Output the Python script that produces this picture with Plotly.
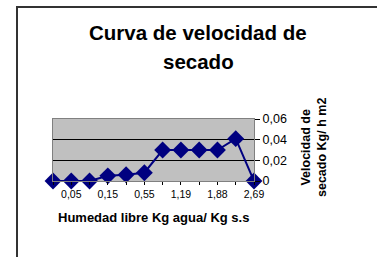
import plotly.graph_objects as go

categories = ["0", "0,05", "0,1", "0,15", "0,35", "0,55", "0,87", "1,19", "1,54", "1,88", "2,29", "2,69"]
velocidad = [0, 0, 0, 0.005, 0.006, 0.008, 0.03, 0.03, 0.03, 0.03, 0.041, 0]
y_ticks = [0, 0.02, 0.04, 0.06]
y_ticktext = ["0", "0,02", "0,04", "0,06"]

FONT = "Liberation Sans, Arial, sans-serif"
W, H = 377, 257
L, R, T, B = 53, 254, 119, 181
pw, ph = R - L, B - T

def px(x):
    return (x - L) / pw

def py(y):
    return (B - y) / ph

fig = go.Figure()
fig.add_trace(go.Scatter(
    x=categories, y=velocidad, mode="lines+markers",
    line=dict(color="#000080", width=2),
    marker=dict(symbol="diamond", size=13, color="#000080"),
    cliponaxis=False, showlegend=False, hoverinfo="skip",
))

fig.update_layout(
    width=W, height=H,
    margin=dict(l=L, r=W - R, t=T, b=H - B, pad=0),
    paper_bgcolor="white", plot_bgcolor="#C0C0C0",
    font=dict(family=FONT, color="black"),
    xaxis=dict(
        type="category", range=[0, len(categories) - 1],
        tickvals=categories,
        ticktext=[c if i % 2 == 1 else "" for i, c in enumerate(categories)],
        ticks="outside", ticklen=3, tickcolor="black",
        showgrid=False, zeroline=False,
        showline=True, linecolor="#808080", linewidth=1, mirror=True,
        tickfont=dict(size=10.5, family=FONT), tickangle=0,
    ),
    yaxis=dict(
        range=[0, 0.06], side="right",
        tickvals=y_ticks, ticktext=y_ticktext,
        ticks="outside", ticklen=5, tickcolor="black",
        showgrid=True, gridcolor="black", gridwidth=1,
        zeroline=False,
        showline=True, linecolor="#808080", linewidth=1, mirror=True,
        tickfont=dict(size=12.5, family=FONT),
    ),
    annotations=[
        dict(text="<b>Curva de velocidad de</b>", xref="paper", yref="paper",
             x=px(198), y=py(32), xanchor="center", yanchor="middle",
             showarrow=False, font=dict(size=20.5, family=FONT)),
        dict(text="<b>secado</b>", xref="paper", yref="paper",
             x=px(198), y=py(62), xanchor="center", yanchor="middle",
             showarrow=False, font=dict(size=20.5, family=FONT)),
        dict(text="<b>Humedad libre Kg agua/ Kg s.s</b>", xref="paper", yref="paper",
             x=px(153), y=py(217), xanchor="center", yanchor="middle",
             showarrow=False, font=dict(size=13, family=FONT)),
        dict(text="<b>Velocidad de<br>secado Kg/ h m2</b>", xref="paper", yref="paper",
             x=px(314), y=py(148), xanchor="center", yanchor="middle",
             textangle=-90, showarrow=False, font=dict(size=12.5, family=FONT)),
    ],
    shapes=[
        dict(type="path", xref="paper", yref="paper",
             path=f"M {px(17)},{py(257)} L {px(17)},{py(7)} L {px(377)},{py(7)}",
             line=dict(color="#333333", width=2)),
    ],
)

fig.write_html(
    "out.html",
    config={"displayModeBar": False},
    post_script="document.body.style.margin='0';document.body.style.padding='0';",
)
